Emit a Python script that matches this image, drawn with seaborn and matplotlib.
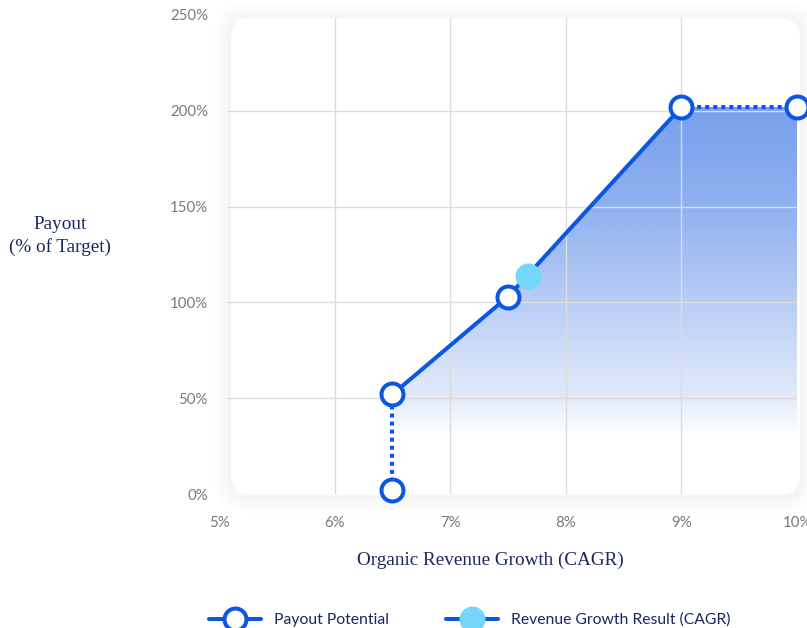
import numpy as np
import pandas as pd
import matplotlib
matplotlib.use("Agg")
import matplotlib.pyplot as plt
from matplotlib.patches import FancyBboxPatch
from matplotlib.lines import Line2D
import seaborn as sns

# Payout curve: organic revenue growth (CAGR, %) vs payout (% of target)
growth = [6.5, 6.5, 7.5, 9.0, 10.0]
payout = [2, 52, 103, 202, 202]

# Actual revenue growth result
result_growth = [7.67]
result_payout = [114]

x_ticks = [5, 6, 7, 8, 9, 10]
x_tick_labels = ["5%", "6%", "7%", "8%", "9%", "10%"]
y_ticks = [0, 50, 100, 150, 200, 250]
y_tick_labels = ["0%", "50%", "100%", "150%", "200%", "250%"]

BLUE = "#0b57e3"
CYAN = "#74d6fb"
NAVY = "#1c2561"
GRID = "#dcdcdc"
TICK = "#7a7a7a"

sns.set_theme(style="white")
plt.rcParams["font.family"] = ["Lato", "DejaVu Sans"]

W, H = 807, 628
fig = plt.figure(figsize=(W / 100, H / 100), dpi=100)
fig.patch.set_facecolor("white")

# Rounded white card with a soft shadow, in pixel coordinates
cx0, cx1 = 231, 800
cy0, cy1 = H - 495, H - 18
for i in range(10, 0, -1):
    grow = i * 1.8
    fig.patches.append(FancyBboxPatch(
        (cx0 - grow, cy0 - grow - 1), (cx1 - cx0) + 2 * grow, (cy1 - cy0) + 2 * grow,
        boxstyle=f"round,pad=0,rounding_size={20 + grow}",
        transform=None, facecolor="black", edgecolor="none",
        alpha=0.0045, zorder=-20))
fig.patches.append(FancyBboxPatch(
    (cx0, cy0), cx1 - cx0, cy1 - cy0,
    boxstyle="round,pad=0,rounding_size=20",
    transform=None, facecolor="white", edgecolor="none", zorder=-10))

# Axes placed so that 5%..10% and 0%..250% land on the card
ax_left, ax_right = 219, 797
ax_bottom, ax_top = 494, 15
ax = fig.add_axes([ax_left / W, 1 - ax_bottom / H,
                   (ax_right - ax_left) / W, (ax_bottom - ax_top) / H])
ax.set_facecolor("none")
ax.set_xlim(5, 10)
ax.set_ylim(0, 250)
for s in ax.spines.values():
    s.set_visible(False)

# Grid lines
ax.vlines([6, 7, 8, 9], -0.5, 248.8, color=GRID, lw=1, zorder=2)
ax.hlines([50, 100, 150, 200], 5.07, 10.03, color=GRID, lw=1, zorder=2)

# Gradient fill below the curve
df = pd.DataFrame({"growth": growth, "payout": payout})
fill_x = growth[1:]
fill_y = payout[1:]
poly = ax.fill_between(fill_x, fill_y, 0, color="none", lw=0)
clip_path = poly.get_paths()[0]
ny = 400
ys = np.linspace(0, max(payout), ny)
alpha = np.interp(ys, [30, 50, 100, 150, 202], [0.0, 0.13, 0.317, 0.5, 0.61])
base = np.array([31, 98, 224]) / 255
img = np.zeros((ny, 2, 4))
img[..., :3] = base
img[..., 3] = alpha[:, None]
im = ax.imshow(img, extent=[min(fill_x), max(fill_x), 0, max(payout)],
               origin="lower", aspect="auto", interpolation="bilinear", zorder=1)
im.set_clip_path(clip_path, transform=ax.transData)

# Solid payout line and dotted threshold / cap segments
sns.lineplot(data=df.iloc[1:4], x="growth", y="payout", ax=ax, color=BLUE,
             lw=2.9, estimator=None, sort=False, zorder=4)
sns.lineplot(data=df.iloc[0:2], x="growth", y="payout", ax=ax, color=BLUE,
             lw=2.9, ls=(0, (1, 1)), estimator=None, sort=False, zorder=4)
sns.lineplot(data=df.iloc[3:5], x="growth", y="payout", ax=ax, color=BLUE,
             lw=2.9, ls=(0, (1, 1)), estimator=None, sort=False, zorder=4)

# Payout potential markers
sns.scatterplot(data=df, x="growth", y="payout", ax=ax, s=250, marker="o",
                facecolor="white", edgecolor=BLUE, linewidth=2.9, zorder=5,
                clip_on=False)
# Revenue growth result
sns.scatterplot(x=result_growth, y=result_payout, ax=ax, s=350, marker="o",
                color=CYAN, linewidth=0, zorder=6, clip_on=False)

ax.set_xticks(x_ticks)
ax.set_xticklabels(x_tick_labels)
ax.set_yticks(y_ticks)
ax.set_yticklabels(y_tick_labels)
ax.tick_params(axis="x", length=0, pad=16, labelsize=10.8, labelcolor=TICK)
ax.tick_params(axis="y", length=0, pad=8, labelsize=10.8, labelcolor=TICK)
ax.set_xlabel("")
ax.set_ylabel("")

serif = ["Liberation Serif", "DejaVu Serif"]
fig.text(60 / W, 1 - 236 / H, "Payout\n(% of Target)", ha="center", va="center",
         fontsize=13.8, color=NAVY, family=serif, linespacing=1.4)
fig.text(490 / W, 1 - 560 / H, "Organic Revenue Growth (CAGR)", ha="center",
         va="center", fontsize=13.8, color=NAVY, family=serif)

handles = [
    Line2D([], [], color=BLUE, lw=2.9, marker="o", ms=15.8, mfc="white",
           mec=BLUE, mew=2.9),
    Line2D([], [], color=BLUE, lw=2.9, marker="o", ms=18.7, mfc=CYAN,
           mec=CYAN, mew=0),
]
fig.legend(handles, ["Payout Potential", "Revenue Growth Result (CAGR)"],
           loc="center", bbox_to_anchor=(470 / W, 1 - 620 / H), ncol=2,
           frameon=False, fontsize=11.3, labelcolor=NAVY, handlelength=3.3,
           handletextpad=0.85, columnspacing=3.6, numpoints=1)

fig.savefig("out.png", dpi=100)
